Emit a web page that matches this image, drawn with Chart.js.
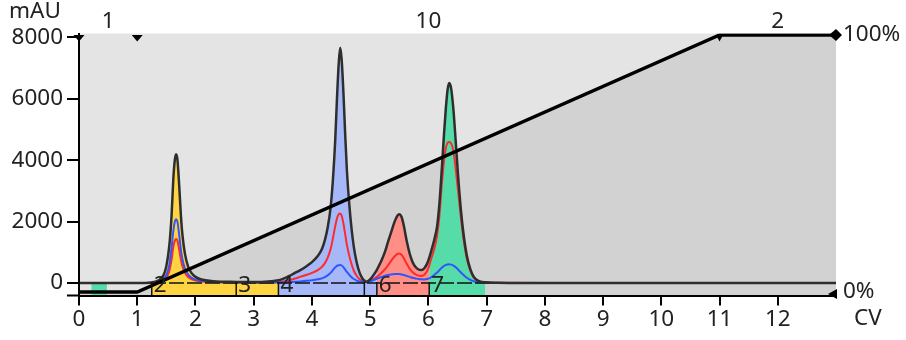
<!DOCTYPE html>
<html>
<head>
<meta charset="utf-8">
<script src="https://cdn.jsdelivr.net/npm/chart.js@4.4.1/dist/chart.umd.min.js"></script>
<style>
  html, body { margin: 0; padding: 0; background: #fff; }
</style>
</head>
<body>
<canvas id="chart" width="906" height="340"></canvas>
<script>
// volume axis (CV) shared by the three UV traces
const cv = [
  0, 0.21, 0.48, 1.0, 1.249, 1.35, 1.45, 1.5, 1.55, 1.59,
  1.62, 1.645, 1.667, 1.69, 1.72, 1.75, 1.78, 1.82, 1.87, 1.93,
  2.0, 2.1, 2.3, 2.7, 3.0, 3.425, 3.6, 3.7, 3.8, 3.9,
  4.0, 4.1, 4.17, 4.22, 4.27, 4.32, 4.36, 4.40, 4.43, 4.46,
  4.485, 4.51, 4.54, 4.57, 4.60, 4.64, 4.68, 4.72, 4.77, 4.82,
  4.87, 4.90, 4.93, 4.97, 5.02, 5.08, 5.115, 5.14, 5.2, 5.26,
  5.3, 5.36, 5.42, 5.47, 5.50, 5.54, 5.58, 5.63, 5.68, 5.73,
  5.78, 5.83, 5.88, 5.93, 5.98, 6.014, 6.05, 6.1, 6.15, 6.19,
  6.23, 6.27, 6.30, 6.33, 6.357, 6.39, 6.43, 6.47, 6.51, 6.56,
  6.61, 6.66, 6.72, 6.78, 6.85, 6.976, 7.2, 8, 9, 10,
  11, 12, 13
];
// main UV trace, mAU (black)
const uvMain = [
  0, 0, 0, 0, 20, 70, 250, 550, 1200, 2200,
  3400, 4000, 4195, 4030, 3200, 2200, 1500, 950, 560, 330,
  200, 115, 60, 35, 30, 90, 220, 320, 420, 540,
  680, 880, 1100, 1380, 1800, 2450, 3350, 4650, 6000, 7150,
  7665, 7300, 6250, 4900, 3700, 2600, 1780, 1170, 660, 330,
  140, 80, 45, 70, 160, 320, 430, 520, 760, 1050,
  1300, 1650, 2000, 2200, 2244, 2150, 1850, 1350, 950, 680,
  520, 440, 420, 480, 640, 820, 1050, 1400, 1850, 2600,
  3700, 4900, 5700, 6300, 6515, 6350, 5650, 4600, 3500, 2350,
  1500, 900, 450, 200, 80, 25, 10, 0, 0, 0,
  0, 0, 0
];
// second wavelength (red)
const uvRed = [
  0, 0, 0, 0, 10, 25, 80, 170, 380, 760,
  1180, 1370, 1430, 1380, 1100, 760, 520, 330, 200, 125,
  80, 50, 30, 20, 20, 30, 90, 140, 200, 260,
  330, 420, 520, 640, 820, 1100, 1450, 1850, 2100, 2240,
  2265, 2200, 1950, 1600, 1250, 900, 620, 400, 230, 120,
  60, 40, 30, 40, 80, 150, 200, 240, 340, 460,
  560, 720, 870, 950, 965, 920, 800, 620, 460, 350,
  280, 240, 230, 270, 400, 560, 800, 1100, 1550, 2200,
  3200, 4000, 4400, 4570, 4595, 4550, 4300, 3700, 3000, 2100,
  1350, 800, 400, 170, 60, 15, 5, 0, 0, 0,
  0, 0, 0
];
// third wavelength (blue)
const uvBlue = [
  0, 0, 0, 0, 10, 35, 120, 260, 580, 1150,
  1700, 1990, 2080, 2000, 1580, 1080, 740, 470, 290, 175,
  110, 70, 40, 25, 20, 20, 30, 40, 50, 70,
  90, 120, 150, 190, 250, 330, 420, 510, 560, 580,
  585, 570, 520, 440, 360, 270, 190, 130, 80, 50,
  30, 25, 25, 40, 70, 110, 140, 160, 200, 240,
  260, 280, 290, 290, 290, 280, 260, 230, 200, 170,
  150, 130, 120, 115, 130, 150, 190, 260, 340, 420,
  500, 560, 590, 605, 608, 600, 570, 510, 440, 340,
  250, 170, 100, 55, 25, 10, 0, 0, 0, 0,
  0, 0, 0
];

// gradient, % B
const gradCV = [0, 1, 11, 13];
const gradPct = [0, 0, 100, 100];

// baseline (dashed)
const baseCV = [0, 13];
const baseVal = [0, 0];

// method phases shown along the top
const phaseStart = [0, 1, 11];
const phaseEnd = [1, 11, 13];
const phaseNames = ['1', '10', '2'];

// fractions
const fracStart = [0.21, 1.249, 2.70, 3.425, 4.90, 5.115, 6.014];
const fracEnd = [0.48, 2.70, 3.425, 4.90, 5.115, 6.014, 6.976];
const fracNames = ['', '2', '3', '4', '', '6', '7'];
const fracColors = ['#56dca8', '#ffd443', '#ffd443', '#a6b8f8', '#a6b8f8', '#ff8e86', '#56dca8'];

const xTicks = [0, 1, 2, 3, 4, 5, 6, 7, 8, 9, 10, 11, 12];
const yTicks = [0, 2000, 4000, 6000, 8000];
const pctTicks = [0, 100];

const FONT = { family: 'Noto Sans', size: 22.5 };
const TEXT = '#222';

const pts = (xs, ys) => xs.map((x, i) => ({ x: x, y: ys[i] }));

function fracColorAt(x) {
  for (let i = 0; i < fracStart.length; i++) {
    if (x >= fracStart[i] && x < fracEnd[i]) return fracColors[i];
  }
  return 'rgba(0,0,0,0)';
}

function downTri(ctx, x, y, w, h) {
  ctx.beginPath();
  ctx.moveTo(x - w / 2, y);
  ctx.lineTo(x + w / 2, y);
  ctx.lineTo(x, y + h);
  ctx.closePath();
  ctx.fill();
}

const decorations = {
  id: 'decorations',
  beforeDraw(chart) {
    const { ctx, chartArea: a } = chart;
    ctx.save();
    ctx.fillStyle = '#e4e4e4';
    ctx.fillRect(a.left, a.top, a.right - a.left, a.bottom - a.top);
    ctx.restore();
  },
  afterDatasetsDraw(chart) {
    const { ctx, chartArea: a } = chart;
    const xs = chart.scales.x, ys = chart.scales.y;
    const y0 = ys.getPixelForValue(0);
    ctx.save();
    ctx.strokeStyle = '#111';
    ctx.lineWidth = 1.5;
    ctx.fillStyle = TEXT;
    ctx.font = FONT.size + 'px ' + FONT.family;
    ctx.textBaseline = 'alphabetic';
    ctx.textAlign = 'left';
    for (let i = 1; i < fracStart.length; i++) {
      const px = xs.getPixelForValue(fracStart[i]);
      ctx.beginPath();
      ctx.moveTo(px, y0 - 1);
      ctx.lineTo(px, a.bottom);
      ctx.stroke();
      if (fracNames[i]) ctx.fillText(fracNames[i], px + 2, a.bottom - 4);
    }
    ctx.restore();
  },
  afterDraw(chart) {
    const { ctx, chartArea: a } = chart;
    const xs = chart.scales.x, ps = chart.scales.y2;
    ctx.save();
    ctx.fillStyle = '#000';
    // phase markers at the top
    phaseStart.forEach((v, i) => {
      const w = i === 2 ? 7 : 11;
      downTri(ctx, xs.getPixelForValue(v), a.top + 1.5, w, 6.5);
    });
    // end markers on the right
    const rx = xs.getPixelForValue(13);
    const ty = ps.getPixelForValue(100);
    ctx.beginPath();
    ctx.moveTo(rx - 7, ty);
    ctx.lineTo(rx, ty - 6);
    ctx.lineTo(rx + 6, ty);
    ctx.lineTo(rx, ty + 6);
    ctx.closePath();
    ctx.fill();
    const by = ps.getPixelForValue(0) + 2;
    ctx.beginPath();
    ctx.moveTo(rx - 8, by);
    ctx.lineTo(rx + 1, by - 5);
    ctx.lineTo(rx + 1, by + 5);
    ctx.closePath();
    ctx.fill();
    // x axis line runs a bit past the y axis
    ctx.fillRect(a.left - 12, a.bottom - 1, 12, 2);

    ctx.fillStyle = TEXT;
    ctx.font = FONT.size + 'px ' + FONT.family;
    ctx.textBaseline = 'alphabetic';
    ctx.textAlign = 'center';
    phaseNames.forEach((name, i) => {
      const cx = xs.getPixelForValue((phaseStart[i] + phaseEnd[i]) / 2);
      ctx.fillText(name, cx, 28);
    });
    ctx.textAlign = 'left';
    ctx.fillText('mAU', 9, 18);
    ctx.fillText('CV', 854, 325);
    ctx.restore();
  }
};

new Chart(document.getElementById('chart'), {
  type: 'line',
  data: {
    datasets: [
      {
        // gradient line
        data: pts(gradCV, gradPct), yAxisID: 'y2',
        borderColor: '#000', borderWidth: 3.5, fill: false, tension: 0, order: 1
      },
      {
        // main UV trace
        data: pts(cv, uvMain), yAxisID: 'y',
        borderColor: '#2e2e2e', borderWidth: 2.5, fill: false,
        cubicInterpolationMode: 'monotone', order: 2
      },
      {
        data: pts(baseCV, baseVal), yAxisID: 'y',
        borderColor: '#111', borderWidth: 1.6, borderDash: [15, 3], fill: false, order: 3
      },
      {
        data: pts(cv, uvBlue), yAxisID: 'y',
        borderColor: '#2f55ff', borderWidth: 2, fill: false,
        cubicInterpolationMode: 'monotone', order: 4
      },
      {
        data: pts(cv, uvRed), yAxisID: 'y',
        borderColor: '#ff2a2a', borderWidth: 2, fill: false,
        cubicInterpolationMode: 'monotone', order: 5
      },
      {
        // fraction colours under the main trace
        data: pts(cv, uvMain), yAxisID: 'y',
        borderWidth: 0, borderColor: 'rgba(0,0,0,0)', fill: 'start',
        backgroundColor: 'rgba(0,0,0,0)',
        segment: {
          backgroundColor: c => fracColorAt((c.p0.parsed.x + c.p1.parsed.x) / 2)
        },
        cubicInterpolationMode: 'monotone', order: 6
      },
      {
        // area under the gradient
        data: pts(gradCV, gradPct), yAxisID: 'y2',
        borderWidth: 0, borderColor: 'rgba(0,0,0,0)', fill: 'start',
        backgroundColor: '#d2d2d2', tension: 0, order: 7
      }
    ]
  },
  options: {
    responsive: false,
    animation: false,
    events: [],
    layout: { padding: { top: 33.5, left: 0, right: 0, bottom: 0 } },
    elements: { point: { radius: 0 } },
    plugins: { legend: { display: false }, tooltip: { enabled: false } },
    scales: {
      x: {
        type: 'linear', min: 0, max: 13,
        afterBuildTicks: s => { s.ticks = xTicks.map(v => ({ value: v })); },
        afterFit: s => { s.height = 44.5; },
        ticks: { font: FONT, color: TEXT, padding: 1, maxRotation: 0, autoSkip: false },
        grid: { drawOnChartArea: false, drawTicks: true, tickLength: 10, color: '#000', lineWidth: 2 },
        border: { display: true, color: '#000', width: 2, z: 1 }
      },
      y: {
        type: 'linear', position: 'left', min: -407, max: 8130,
        afterBuildTicks: s => { s.ticks = yTicks.map(v => ({ value: v })); },
        afterFit: s => { s.width = 79; },
        ticks: { font: FONT, color: TEXT, padding: 4, callback: v => String(v) },
        grid: { drawOnChartArea: false, drawTicks: true, tickLength: 12, color: '#000', lineWidth: 2 },
        border: { display: true, color: '#000', width: 2, z: 1 }
      },
      y2: {
        type: 'linear', position: 'right', min: -1.36, max: 100.58,
        afterBuildTicks: s => { s.ticks = pctTicks.map(v => ({ value: v })); },
        afterFit: s => { s.width = 70; },
        ticks: { font: FONT, color: TEXT, padding: 7, callback: v => v + '%' },
        grid: { display: false, drawTicks: false },
        border: { display: false }
      }
    }
  },
  plugins: [decorations]
});
</script>
</body>
</html>
